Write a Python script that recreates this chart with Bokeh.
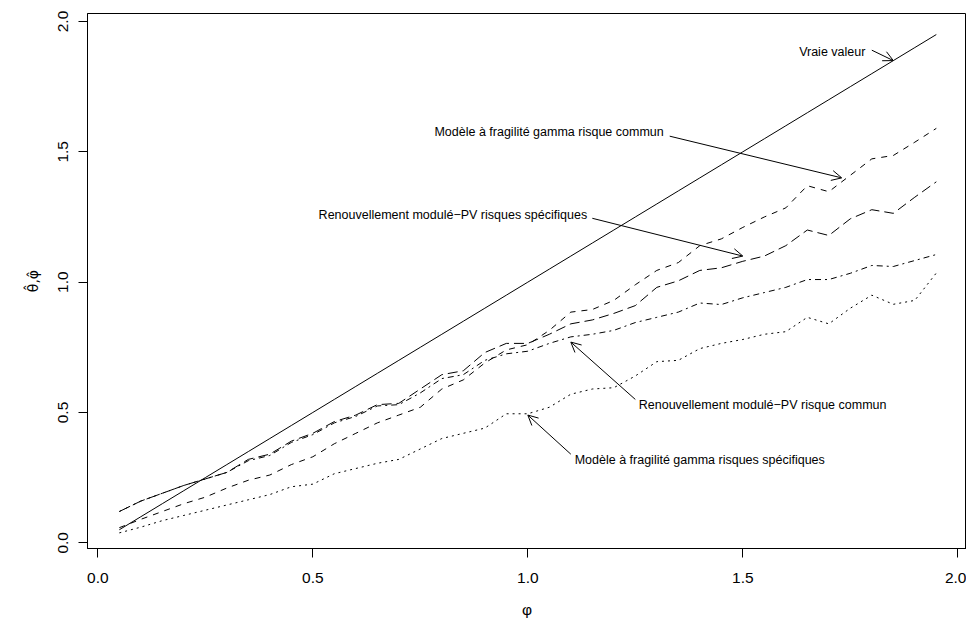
from bokeh.plotting import figure
from bokeh.models import Range1d, Label, Arrow, OpenHead, FixedTicker
from bokeh.embed import file_html
from bokeh.resources import INLINE

# ---- data ----
phi = [0.05, 0.10, 0.15, 0.20, 0.25, 0.30, 0.35, 0.40, 0.45, 0.50,
       0.55, 0.60, 0.65, 0.70, 0.75, 0.80, 0.85, 0.90, 0.95, 1.00,
       1.05, 1.10, 1.15, 1.20, 1.25, 1.30, 1.35, 1.40, 1.45, 1.50,
       1.55, 1.60, 1.65, 1.70, 1.75, 1.80, 1.85, 1.90, 1.95]

true_value = [0.05, 0.10, 0.15, 0.20, 0.25, 0.30, 0.35, 0.40, 0.45, 0.50,
              0.55, 0.60, 0.65, 0.70, 0.75, 0.80, 0.85, 0.90, 0.95, 1.00,
              1.05, 1.10, 1.15, 1.20, 1.25, 1.30, 1.35, 1.40, 1.45, 1.50,
              1.55, 1.60, 1.65, 1.70, 1.75, 1.80, 1.85, 1.90, 1.95]

gamma_commun = [0.058, 0.09, 0.12, 0.15, 0.175, 0.21, 0.24, 0.26, 0.30, 0.33,
                0.38, 0.42, 0.46, 0.49, 0.52, 0.59, 0.625, 0.69, 0.74, 0.76,
                0.815, 0.885, 0.895, 0.93, 0.99, 1.045, 1.075, 1.14, 1.166, 1.21,
                1.25, 1.285, 1.37, 1.347, 1.41, 1.473, 1.486, 1.537, 1.59]

pv_specifiques = [0.12, 0.16, 0.19, 0.22, 0.245, 0.27, 0.32, 0.34, 0.39, 0.42,
                  0.465, 0.49, 0.53, 0.535, 0.59, 0.645, 0.66, 0.73, 0.765, 0.765,
                  0.80, 0.84, 0.855, 0.88, 0.91, 0.98, 1.005, 1.045, 1.055, 1.08,
                  1.10, 1.14, 1.20, 1.179, 1.243, 1.278, 1.264, 1.326, 1.385]

pv_commun = [0.12, 0.16, 0.19, 0.22, 0.245, 0.27, 0.315, 0.335, 0.385, 0.415,
             0.46, 0.485, 0.525, 0.53, 0.575, 0.63, 0.645, 0.70, 0.725, 0.735,
             0.765, 0.79, 0.80, 0.815, 0.845, 0.865, 0.885, 0.92, 0.914, 0.94,
             0.96, 0.98, 1.01, 1.01, 1.034, 1.064, 1.06, 1.083, 1.106]

gamma_specifiques = [0.038, 0.06, 0.085, 0.105, 0.125, 0.145, 0.165, 0.185, 0.215, 0.225,
                     0.265, 0.285, 0.305, 0.32, 0.36, 0.40, 0.42, 0.44, 0.495, 0.495,
                     0.52, 0.57, 0.59, 0.595, 0.64, 0.695, 0.70, 0.745, 0.765, 0.78,
                     0.80, 0.81, 0.865, 0.84, 0.90, 0.95, 0.915, 0.93, 1.035]

x_ticks = [0.0, 0.5, 1.0, 1.5, 2.0]
x_tick_labels = ["0.0", "0.5", "1.0", "1.5", "2.0"]
y_ticks = [0.0, 0.5, 1.0, 1.5, 2.0]
y_tick_labels = ["0.0", "0.5", "1.0", "1.5", "2.0"]

annot_texts = ["Vraie valeur",
               "Modèle à fragilité gamma risque commun",
               "Renouvellement modulé\u2212PV risques spécifiques",
               "Renouvellement modulé\u2212PV risque commun",
               "Modèle à fragilité gamma risques spécifiques"]
annot_x = [1.785, 1.316, 1.138, 1.258, 1.109]
annot_y = [1.882, 1.575, 1.258, 0.530, 0.3195]
annot_align = ["right", "right", "right", "left", "left"]
arrow_x0 = [1.80, 1.33, 1.15, 1.25, 1.10]
arrow_y0 = [1.89, 1.56, 1.245, 0.55, 0.34]
arrow_x1 = [1.85, 1.73, 1.50, 1.10, 1.00]
arrow_y1 = [1.85, 1.40, 1.10, 0.77, 0.49]

FONT = "Liberation Sans"

p = figure(width=966, height=623, output_backend="svg", toolbar_location=None,
           x_range=Range1d(-0.024, 2.0202), y_range=Range1d(-0.0219, 2.0307),
           min_border_left=87, min_border_right=0, min_border_top=13, min_border_bottom=75,
           background_fill_color="white", border_fill_color="white")

p.xgrid.visible = False
p.ygrid.visible = False
p.outline_line_color = "black"
p.outline_line_width = 1
p.outline_line_alpha = 1.0

for ax, ticks, labels in ((p.xaxis[0], x_ticks, x_tick_labels), (p.yaxis[0], y_ticks, y_tick_labels)):
    ax.ticker = FixedTicker(ticks=ticks, minor_ticks=[])
    ax.major_label_overrides = {t: l for t, l in zip(ticks, labels)}
    ax.axis_line_color = "black"
    ax.major_tick_line_color = "black"
    ax.minor_tick_line_color = None
    ax.major_tick_in = 0
    ax.major_label_text_font = FONT
    ax.major_label_text_font_size = "15.5px"
    ax.major_label_text_color = "black"
    ax.axis_label_text_font = FONT
    ax.axis_label_text_font_size = "15.5px"
    ax.axis_label_text_font_style = "normal"
    ax.axis_label_text_color = "black"

p.xaxis.major_tick_out = 9
p.xaxis.major_label_standoff = 15
p.xaxis.axis_label = "\u03c6"
p.xaxis.axis_label_standoff = 15

p.yaxis.major_tick_out = 9
p.yaxis.major_label_orientation = "vertical"
p.yaxis.major_label_standoff = 10
p.yaxis.axis_label = "\u03b8\u0302,\u03c6\u0302"
p.yaxis.axis_label_text_font = "DejaVu Sans"
p.yaxis.axis_label_text_font_size = "14px"
p.yaxis.axis_label_standoff = 15

p.line(phi, true_value, line_color="black", line_width=1)
p.line(phi, gamma_commun, line_color="black", line_width=1, line_dash="6 6")
p.line(phi, pv_specifiques, line_color="black", line_width=1, line_dash="10 5")
p.line(phi, pv_commun, line_color="black", line_width=1, line_dash="2 4 6 4")
p.line(phi, gamma_specifiques, line_color="black", line_width=1, line_dash="2 4")

for t, x, y, a in zip(annot_texts, annot_x, annot_y, annot_align):
    p.add_layout(Label(x=x, y=y, text=t, text_align=a, text_baseline="middle",
                       text_font=FONT, text_font_size="12.5px", text_color="black"))

for x0, y0, x1, y1 in zip(arrow_x0, arrow_y0, arrow_x1, arrow_y1):
    p.add_layout(Arrow(end=OpenHead(size=10, line_width=1, line_color="black"),
                       x_start=x0, y_start=y0, x_end=x1, y_end=y1,
                       line_color="black", line_width=1))

open("out.html", "w").write(file_html(p, INLINE))
